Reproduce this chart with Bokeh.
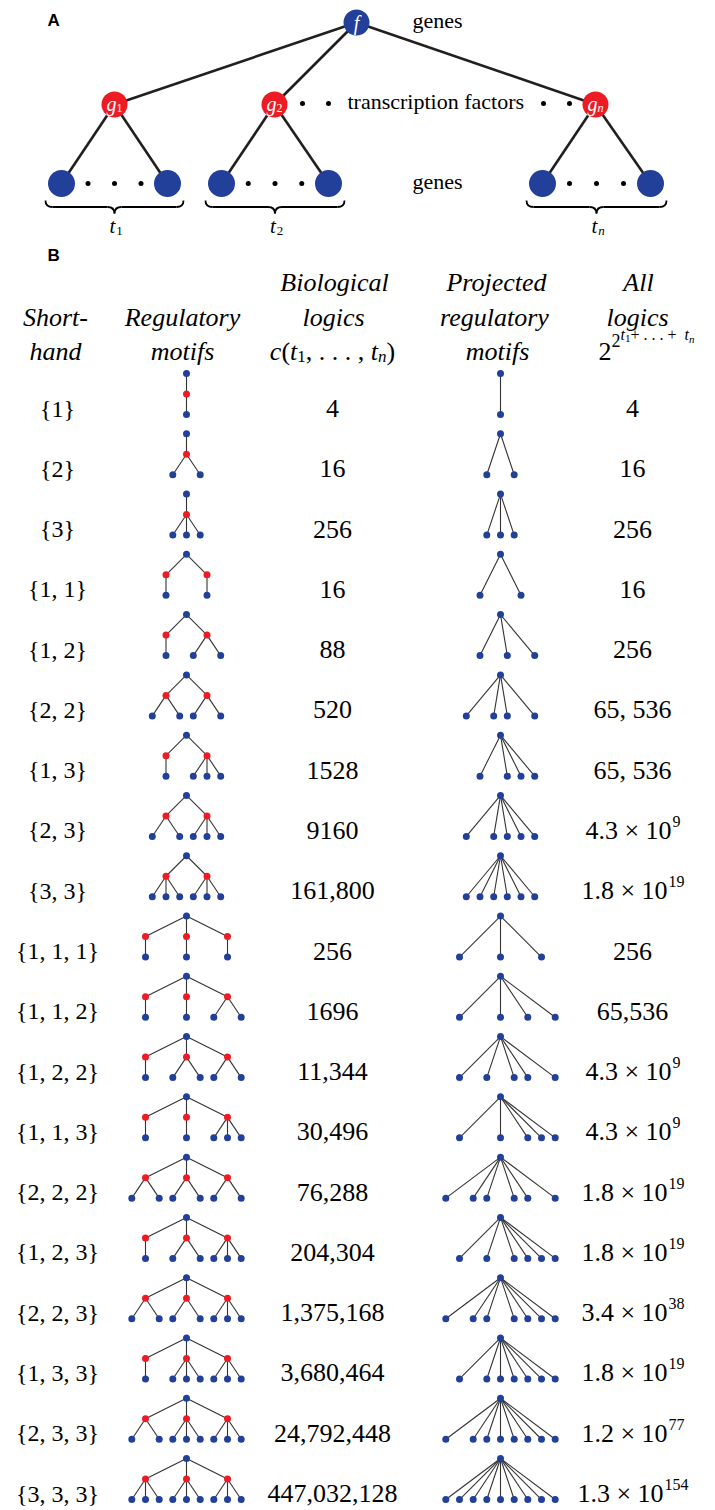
from bokeh.plotting import figure
from bokeh.models import Range1d
from bokeh.core.properties import value
from bokeh.embed import file_html
from bokeh.resources import INLINE

# ---------------- data ----------------
motifs = [[1], [2], [3], [1, 1], [1, 2], [2, 2], [1, 3], [2, 3], [3, 3],
          [1, 1, 1], [1, 1, 2], [1, 2, 2], [1, 1, 3], [2, 2, 2], [1, 2, 3],
          [2, 2, 3], [1, 3, 3], [2, 3, 3], [3, 3, 3]]
shorthand = ["{1}", "{2}", "{3}", "{1, 1}", "{1, 2}", "{2, 2}", "{1, 3}", "{2, 3}",
             "{3, 3}", "{1, 1, 1}", "{1, 1, 2}", "{1, 2, 2}", "{1, 1, 3}", "{2, 2, 2}",
             "{1, 2, 3}", "{2, 2, 3}", "{1, 3, 3}", "{2, 3, 3}", "{3, 3, 3}"]
bio_logics = ["4", "16", "256", "16", "88", "520", "1528", "9160", "161,800", "256",
              "1696", "11,344", "30,496", "76,288", "204,304", "1,375,168",
              "3,680,464", "24,792,448", "447,032,128"]
all_logics_base = ["4", "16", "256", "16", "256", "65, 536", "65, 536", "4.3 × 10",
                   "1.8 × 10", "256", "65,536", "4.3 × 10", "4.3 × 10", "1.8 × 10",
                   "1.8 × 10", "3.4 × 10", "1.8 × 10", "1.2 × 10", "1.3 × 10"]
all_logics_exp = ["", "", "", "", "", "", "", "9", "19", "", "", "9", "9", "19",
                  "19", "38", "19", "77", "154"]

header_short = ["Short-", "hand"]
header_reg = ["Regulatory", "motifs"]
header_bio = ["Biological", "logics"]
header_proj = ["Projected", "regulatory", "motifs"]
header_all = ["All", "logics"]
level_labels = ["genes", "transcription factors", "genes"]
tf_names = ["1", "2", "n"]

BLUE = "#22409A"
RED = "#ED1C24"
EDGE = "#333333"
SERIF = value("Liberation Serif")
SANS = value("Liberation Sans")

p = figure(width=715, height=1510, x_range=Range1d(0, 715), y_range=Range1d(1510, 0),
           output_backend="svg", toolbar_location=None, x_axis_type=None,
           y_axis_type=None, min_border=0)
p.outline_line_color = None
p.xgrid.visible = False
p.ygrid.visible = False

REG = {c: 0.5 for c in "0123456789"}
REG.update({",": .25, ".": .25, " ": .25, "×": .564, "{": .48, "}": .48,
            "(": .333, ")": .333, "+": .564})
ITA = {"c": .444, "t": .278, "n": .5, "f": .278, "g": .5}


def tw(s, size, style="normal"):
    tbl = ITA if style == "italic" else REG
    return sum(tbl.get(ch, REG.get(ch, .5)) for ch in s) * size


def txt(x, y, s, size, style="normal", align="center", baseline="middle",
        color="black", font=SERIF):
    p.text(x=[x], y=[y], text=[s], text_font=font, text_font_size=f"{size}px",
           text_font_style=style, text_align=align, text_baseline=baseline,
           text_color=color)


def segs(xc, y, parts):
    total = sum(tw(s, sz, st) for s, sz, st, dy in parts)
    x = xc - total / 2
    for s, sz, st, dy in parts:
        txt(x, y + dy, s, sz, st, align="left")
        x += tw(s, sz, st)


# ---------------- panel A ----------------
txt(47, 20, "A", 17, "bold", align="left", font=SANS)
txt(47, 255, "B", 17, "bold", align="left", font=SANS)

fx, fy = 356, 22
gx = [114, 274, 595]
gy = 104
leaf_ends = [(61, 167), (221, 328), (542, 650)]
ly = 183

x0, y0, x1, y1 = [], [], [], []
for g in gx:
    x0.append(fx); y0.append(fy); x1.append(g); y1.append(gy)
for g, (a, b) in zip(gx, leaf_ends):
    for lx in (a, b):
        x0.append(g); y0.append(gy); x1.append(lx); y1.append(ly)
p.segment(x0=x0, y0=y0, x1=x1, y1=y1, line_color="#231F20", line_width=2.6)

lxs = [v for pair in leaf_ends for v in pair]
p.scatter(x=lxs, y=[ly] * len(lxs), size=27, fill_color=BLUE, line_color=None)
p.scatter(x=gx, y=[gy] * 3, size=26, fill_color=RED, line_color=None)
p.scatter(x=[fx], y=[fy], size=26, fill_color=BLUE, line_color=None)

# dots
dx, dy_ = [], []
for a, b in leaf_ends:
    for k in (1, 2, 3):
        dx.append(a + (b - a) * k / 4.0); dy_.append(ly)
for xx in (302, 328, 543, 569):
    dx.append(xx); dy_.append(gy - 1)
p.scatter(x=dx, y=dy_, size=5, fill_color="black", line_color=None)

# node labels
txt(fx, fy, "f", 20, "italic", color="white")
for g, nm in zip(gx, tf_names):
    txt(g - 3, gy - 1, "g", 20, "italic", color="white")
    txt(g + 5, gy + 3, nm, 12, "italic" if nm == "n" else "normal", color="white")

txt(412, 20, level_labels[0], 22, align="left")
txt(347, 101, level_labels[1], 22, align="left")
txt(412, 181, level_labels[2], 22, align="left")

# braces
bx0, by0, bx1, by1, bcx, bcy = [], [], [], [], [], []
lx0, ly0, lx1, ly1 = [], [], [], []
top, h, d = 200, 13, 7
for a, b in leaf_ends:
    xl, xr = a - 16, b + 16
    xm = (xl + xr) / 2
    ym = top + h / 2
    for s, e in ((xl, xm), (xr, xm)):
        sg = 1 if e > s else -1
        bx0.append(s); by0.append(top); bx1.append(s + sg * d); by1.append(ym)
        bcx.append(s); bcy.append(ym)
        lx0.append(s + sg * d); ly0.append(ym); lx1.append(e - sg * d); ly1.append(ym)
        bx0.append(e - sg * d); by0.append(ym); bx1.append(e); by1.append(top + h)
        bcx.append(e); bcy.append(ym)
p.quadratic(x0=bx0, y0=by0, x1=bx1, y1=by1, cx=bcx, cy=bcy, line_color="black", line_width=1.8)
p.segment(x0=lx0, y0=ly0, x1=lx1, y1=ly1, line_color="black", line_width=1.8)

for (a, b), nm in zip(leaf_ends, tf_names):
    xm = (a + b) / 2
    txt(xm - 2, 225, "t", 21, "italic")
    txt(xm + 5, 230, nm, 13, "italic" if nm == "n" else "normal")

# ---------------- panel B header ----------------
HS = 26
b1, b2, b3 = 282, 317, 351
txt(55, b2, header_short[0], HS, "italic")
txt(55, b3, header_short[1], HS, "italic")
txt(182, b2, header_reg[0], HS, "italic")
txt(182, b3, header_reg[1], HS, "italic")
txt(334, b1, header_bio[0], HS, "italic")
txt(333, b2, header_bio[1], HS, "italic")
segs(332, b3, [("c", HS, "italic", 0), ("(", HS, "normal", 0), ("t", HS, "italic", 0),
               ("1", 17, "normal", 5), (", . . . , ", HS, "normal", 0),
               ("t", HS, "italic", 0), ("n", 17, "italic", 5), (")", HS, "normal", 0)])
txt(496, b1, header_proj[0], HS, "italic")
txt(494, b2, header_proj[1], HS, "italic")
txt(497, b3, header_proj[2], HS, "italic")
txt(638, b1, header_all[0], HS, "italic")
txt(637, b2, header_all[1], HS, "italic")
segs(646, b3, [("2", HS, "normal", 0), ("2", 18, "normal", -11),
               ("t", 16, "italic", -17), ("1", 11, "normal", -13),
               (" + . . . + ", 16, "normal", -17),
               ("t", 16, "italic", -17), ("n", 11, "italic", -13)])

# ---------------- panel B rows ----------------
ROOT_X, PROJ_X = 186, 500
LEAF_Y0, ROW_DY, LEVEL = 414.0, 60.28, 20.5
TF_OFF = {1: [0.0], 2: [-20.5, 20.5], 3: [-41.0, 0.0, 41.0]}
LEAF_OFF = {1: [0.0], 2: [-13.7, 13.7], 3: [-13.7, 0.0, 13.7]}
NS = 26

ex0, ey0, ex1, ey1 = [], [], [], []
blue_x, blue_y, red_x, red_y = [], [], [], []
for i, m in enumerate(motifs):
    yl = LEAF_Y0 + i * ROW_DY
    yt = yl - LEVEL
    yr = yl - 2 * LEVEL
    blue_x += [ROOT_X, PROJ_X]; blue_y += [yr, yr]
    for to, t in zip(TF_OFF[len(m)], m):
        tx = ROOT_X + to
        ex0.append(ROOT_X); ey0.append(yr); ex1.append(tx); ey1.append(yt)
        red_x.append(tx); red_y.append(yt)
        for lo in LEAF_OFF[t]:
            ex0.append(tx); ey0.append(yt); ex1.append(tx + lo); ey1.append(yl)
            blue_x.append(tx + lo); blue_y.append(yl)
            px = PROJ_X + to + lo
            ex0.append(PROJ_X); ey0.append(yr); ex1.append(px); ey1.append(yl)
            blue_x.append(px); blue_y.append(yl)

    yc = yl - 6
    txt(57, yc, shorthand[i], 24)
    txt(332, yc, bio_logics[i], NS)
    b, e = all_logics_base[i], all_logics_exp[i]
    if e:
        wb, we = tw(b, NS), tw(e, 16)
        left = 632 - (wb + we) / 2
        txt(left, yc, b, NS, align="left")
        txt(left + wb + 1, yc - 9, e, 16, align="left")
    else:
        txt(632, yc, b, NS)

p.segment(x0=ex0, y0=ey0, x1=ex1, y1=ey1, line_color=EDGE, line_width=1.1)
p.scatter(x=blue_x, y=blue_y, size=7, fill_color=BLUE, line_color=None)
p.scatter(x=red_x, y=red_y, size=7, fill_color=RED, line_color=None)

open("out.html", "w").write(file_html(p, INLINE))
